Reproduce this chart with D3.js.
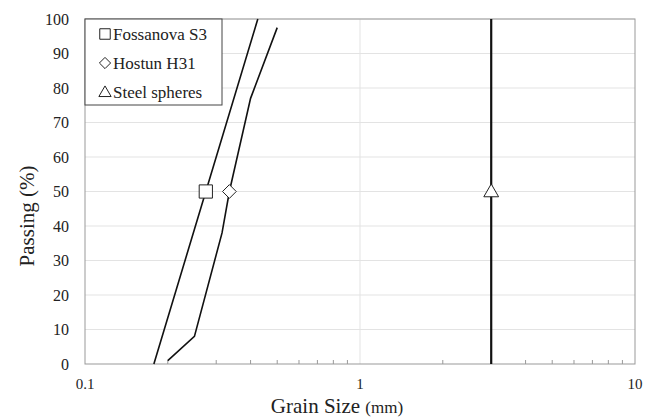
<!DOCTYPE html>
<html>
<head>
<script src="https://d3js.org/d3.v7.min.js"></script>
<style>
  body { margin: 0; background: #fff; }
</style>
</head>
<body>
<svg id="chart" width="655" height="417"></svg>
<script>
// data
const fossanovaSize = [0.178, 0.275, 0.425];
const fossanovaPass = [0, 50, 100];
const hostunSize = [0.2, 0.25, 0.315, 0.335, 0.4, 0.5];
const hostunPass = [1, 8, 38, 50, 77, 97.5];
const steelSize = [3, 3, 3];
const steelPass = [0, 50, 100];
const legendNames = ["Fossanova S3", "Hostun H31", "Steel spheres"];
const yTicks = [0, 10, 20, 30, 40, 50, 60, 70, 80, 90, 100];
const xTickLabels = [0.1, 1, 10];

const FONT = "'Liberation Serif', 'Times New Roman', Tinos, 'DejaVu Serif', serif";

const svg = d3.select("#chart");
const m = {left: 85, right: 20, top: 19, bottom: 53};
const W = 655, H = 417;

const x = d3.scaleLog().domain([0.1, 10]).range([m.left, W - m.right]);
const y = d3.scaleLinear().domain([0, 100]).range([H - m.bottom, m.top]);

// grid
svg.append("g").selectAll("line").data(yTicks.slice(1))
  .join("line")
  .attr("x1", m.left).attr("x2", W - m.right)
  .attr("y1", d => y(d)).attr("y2", d => y(d))
  .attr("stroke", "#e3e3e3").attr("stroke-width", 1);
svg.append("line")
  .attr("x1", x(1)).attr("x2", x(1))
  .attr("y1", y(0)).attr("y2", y(100))
  .attr("stroke", "#e3e3e3").attr("stroke-width", 1);

// frame
svg.append("rect")
  .attr("x", m.left).attr("y", m.top)
  .attr("width", W - m.right - m.left).attr("height", y(0) - m.top)
  .attr("fill", "none").attr("stroke", "#999").attr("stroke-width", 1);

// minor ticks on bottom axis (pointing up)
const minor = [];
[0.1, 1].forEach(dec => { for (let i = 2; i <= 9; i++) minor.push(dec * i); });
svg.append("g").selectAll("line").data(minor)
  .join("line")
  .attr("x1", d => x(d)).attr("x2", d => x(d))
  .attr("y1", y(0)).attr("y2", y(0) - 4)
  .attr("stroke", "#999");

// y tick labels
svg.append("g").selectAll("text").data(yTicks)
  .join("text")
  .attr("x", 69).attr("y", d => y(d) + 5.5)
  .attr("text-anchor", "end")
  .attr("font-family", FONT).attr("font-size", 16).attr("fill", "#222")
  .text(d => d);

// x tick labels
svg.append("g").selectAll("text").data(xTickLabels)
  .join("text")
  .attr("x", d => x(d)).attr("y", 389)
  .attr("text-anchor", "middle")
  .attr("font-family", FONT).attr("font-size", 15).attr("fill", "#222")
  .text(d => d);

// axis titles
svg.append("text")
  .attr("transform", "translate(34,216) rotate(-90)")
  .attr("text-anchor", "middle")
  .attr("font-family", FONT).attr("font-size", 21).attr("fill", "#222")
  .text("Passing (%)");

const xt = svg.append("text")
  .attr("x", 337).attr("y", 413)
  .attr("text-anchor", "middle")
  .attr("font-family", FONT).attr("font-size", 21).attr("fill", "#222");
xt.append("tspan").text("Grain Size ");
xt.append("tspan").attr("font-size", 17).text("(mm)");

// curves
const line = d3.line().x(d => x(d[0])).y(d => y(d[1]));
const series = [
  {size: fossanovaSize, pass: fossanovaPass, sym: d3.symbolSquare, w: 1.6},
  {size: hostunSize, pass: hostunPass, sym: d3.symbolDiamond2, w: 1.6},
  {size: steelSize, pass: steelPass, sym: d3.symbolTriangle, w: 2.2}
];
series.forEach(s => {
  const pts = s.size.map((v, i) => [v, s.pass[i]]);
  svg.append("path").datum(pts)
    .attr("d", line)
    .attr("fill", "none").attr("stroke", "#111").attr("stroke-width", s.w);
});

// markers at 50%
const markerSize = [175, 120, 95];
series.forEach((s, i) => {
  const k = s.pass.indexOf(50);
  svg.append("path")
    .attr("d", d3.symbol().type(s.sym).size(markerSize[i])())
    .attr("transform", "translate(" + x(s.size[k]) + "," + (y(50) + (i === 2 ? 1 : 0)) + ")")
    .attr("fill", "#fff").attr("stroke", "#222").attr("stroke-width", 1);
});

// legend
svg.append("rect")
  .attr("x", m.left).attr("y", m.top)
  .attr("width", 137).attr("height", 86)
  .attr("fill", "#fff").attr("stroke", "#444").attr("stroke-width", 1);
const legSizes = [110, 80, 65];
legendNames.forEach((name, i) => {
  const cy = 34 + i * 29;
  svg.append("path")
    .attr("d", d3.symbol().type(series[i].sym).size(legSizes[i])())
    .attr("transform", "translate(105," + (cy + (i === 2 ? 1 : 0)) + ")")
    .attr("fill", "#fff").attr("stroke", "#222").attr("stroke-width", 1);
  svg.append("text")
    .attr("x", 113).attr("y", cy + 5.5)
    .attr("font-family", FONT).attr("font-size", 17).attr("fill", "#222")
    .text(name);
});
</script>
</body>
</html>
